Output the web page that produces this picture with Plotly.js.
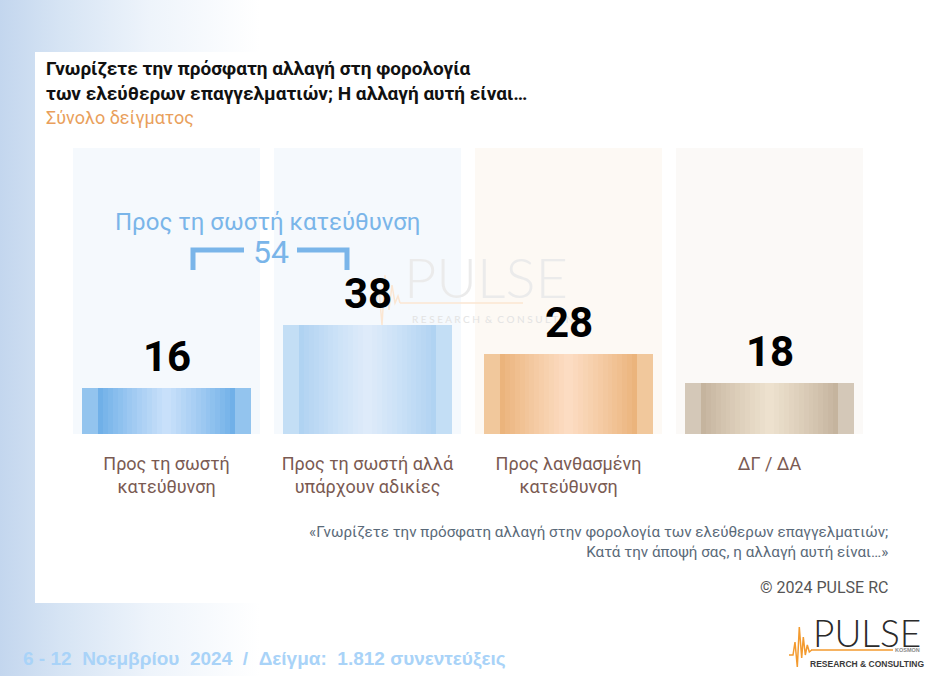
<!DOCTYPE html>
<html>
<head>
<meta charset="utf-8">
<script src="https://cdn.plot.ly/plotly-3.0.1.min.js"></script>
<style>
  html, body { margin: 0; padding: 0; }
  body { width: 936px; height: 676px; overflow: hidden;
         background: linear-gradient(to right, #c3d6ee 0px, #d6e4f4 60px, #eef4fb 150px, #ffffff 260px); }
  #chart { width: 936px; height: 676px; }
</style>
</head>
<body>
<div id="chart"></div>
<script>
// ---------------- data ----------------
const categories = ['Προς τη σωστή<br>κατεύθυνση', 'Προς τη σωστή αλλά<br>υπάρχουν αδικίες', 'Προς λανθασμένη<br>κατεύθυνση', 'ΔΓ / ΔΑ'];
const values = [16, 38, 28, 18];
const scaleMax = [100, 100, 100, 100];
const groupLabel = 'Προς τη σωστή κατεύθυνση';
const groupTotal = 54;
const titleLines = ['Γνωρίζετε την πρόσφατη αλλαγή στη φορολογία', 'των ελεύθερων επαγγελματιών; Η αλλαγή αυτή είναι…'];
const subtitle = 'Σύνολο δείγματος';
const questionNote = ['«Γνωρίζετε την πρόσφατη αλλαγή στην φορολογία των ελεύθερων επαγγελματιών;', 'Κατά την άποψή σας, η αλλαγή αυτή είναι…»'];
const copyright = '© 2024 PULSE RC';
const fieldNote = '6 - 12&nbsp;&nbsp;Νοεμβρίου&nbsp;&nbsp;2024&nbsp;&nbsp;/&nbsp;&nbsp;Δείγμα:&nbsp;&nbsp;1.812 συνεντεύξεις';

// ---------------- styles ----------------
const trackColors = ['#f5f9fd', '#f5f9fd', '#fdf9f4', '#fbf9f7'];
const edgeColors  = ['#93c4ee', '#c3def5', '#f1c89c', '#d4c8b8'];
const darkColors  = ['#70b0e8', '#b0d3f2', '#ebb47c', '#c5b49e'];
const lightColors = ['#c8e0fa', '#deebfa', '#fcdcc2', '#ede1ce'];

function hex2rgb(h) { return [1,3,5].map(i => parseInt(h.substr(i,2),16)); }
function mix(a, b, t) {
  const A = hex2rgb(a), B = hex2rgb(b);
  return 'rgb(' + A.map((v,i) => Math.round(v + (B[i]-v)*t)).join(',') + ')';
}

const W = 936, H = 676;
const M = {l: 66, r: 66, t: 148, b: 242};
const PW = W - M.l - M.r, PH = H - M.t - M.b;
const px = p => (p - M.l) / PW;      // pixel x -> paper x
const py = p => (H - M.b - p) / PH;  // pixel y -> paper y

const barW = 0.84, edgeFrac = 16/201;
const traces = [];
// background tracks
traces.push({type: 'bar', x: categories, y: scaleMax, width: 0.935,
  marker: {color: trackColors, line: {width: 0}}, hoverinfo: 'skip', showlegend: false});
// outer edge band
traces.push({type: 'bar', x: categories, y: values, width: barW,
  marker: {color: edgeColors, line: {width: 0}}, hoverinfo: 'skip', showlegend: false});
// gradient layers (dark at sides -> light in centre)
const inner = barW - 2*edgeFrac;
const N = 14;
for (let k = 0; k < N; k++) {
  const t = k / (N - 1);
  traces.push({type: 'bar', x: categories, y: values, width: inner * (1 - k / N),
    marker: {color: categories.map((c,i) => mix(darkColors[i], lightColors[i], Math.pow(t, 0.9))), line: {width: 0}},
    hoverinfo: 'skip', showlegend: false});
}

const C = {xanchor: 'center', yanchor: 'middle', showarrow: false};
const annotations = [];
// watermark
annotations.push(Object.assign({xref: 'paper', yref: 'paper', x: px(486), y: py(276), text: 'PULSE',
  font: {family: 'Lato, Roboto, sans-serif', size: 56, color: '#ebebeb', weight: 300}}, C));
annotations.push(Object.assign({xref: 'paper', yref: 'paper', x: px(497), y: py(319), text: 'R E S E A R C H &nbsp;&amp;&nbsp; C O N S U L T I N G',
  font: {family: 'Lato, Roboto, sans-serif', size: 10, color: '#e3e3e3'}}, C));
// group label + total
annotations.push(Object.assign({xref: 'x', yref: 'y', x: 0.5, y: (434 - 222) / PH * 100, text: groupLabel,
  font: {family: 'Roboto, sans-serif', size: 24, color: '#7ab5e9'}}, C));
annotations.push(Object.assign({xref: 'x', yref: 'y', x: 0.52, y: (434 - 252) / PH * 100, text: String(groupTotal),
  font: {family: 'Roboto, sans-serif', size: 32, color: '#7ab5e9'}}, C));
// value labels
values.forEach((v, i) => annotations.push({xref: 'x', yref: 'y', x: i, y: v, xanchor: 'center', yanchor: 'bottom', yshift: 5,
  text: '<b>' + v + '</b>', showarrow: false,
  font: {family: 'Roboto, sans-serif', size: 42, color: '#000000'}}));
// question note
annotations.push({xref: 'paper', yref: 'paper', x: px(890), y: py(521), xanchor: 'right', yanchor: 'top', align: 'right',
  text: questionNote.join('<br>'), showarrow: false,
  font: {family: 'Roboto, sans-serif', size: 15.2, color: '#5a6a79'}});
annotations.push({xref: 'paper', yref: 'paper', x: px(890), y: py(587), xanchor: 'right', yanchor: 'middle',
  text: copyright, showarrow: false, font: {family: 'Roboto, sans-serif', size: 16, color: '#555555'}});
// field note
annotations.push({xref: 'paper', yref: 'paper', x: px(21), y: py(659), xanchor: 'left', yanchor: 'middle',
  text: '<b>' + fieldNote + '</b>', showarrow: false,
  font: {family: '"Liberation Sans", Arial, sans-serif', size: 19, color: '#a9d3f8'}});
// logo
annotations.push(Object.assign({xref: 'paper', yref: 'paper', x: px(867), y: py(632), text: 'PULSE',
  font: {family: 'Lato, Roboto, sans-serif', size: 37, color: '#2a2a2a', weight: 300}}, C));
annotations.push(Object.assign({xref: 'paper', yref: 'paper', x: px(907), y: py(650), text: '<b>KOSMON</b>',
  font: {family: '"Liberation Sans", sans-serif', size: 5.5, color: '#8a8a8a'}}, C));
annotations.push(Object.assign({xref: 'paper', yref: 'paper', x: px(867), y: py(664), text: '<b>RESEARCH &amp; CONSULTING</b>',
  font: {family: '"Liberation Sans", sans-serif', size: 8.5, color: '#3a3a3a'}}, C));

const shapes = [];
// white panel
shapes.push({type: 'rect', xref: 'paper', yref: 'paper', x0: px(35), x1: px(940), y0: py(603), y1: py(52),
  fillcolor: '#ffffff', line: {width: 0}, layer: 'below'});
// bracket
const yv = p => (434 - p) / PH * 100;
const xc = p => (p - 166.5) / 201;
const bl = {color: '#7ab5e9', width: 5};
shapes.push({type: 'path', xref: 'x', yref: 'y', layer: 'above', line: bl,
  path: `M ${xc(193)},${yv(270)} L ${xc(193)},${yv(250)} L ${xc(244)},${yv(250)}`});
shapes.push({type: 'path', xref: 'x', yref: 'y', layer: 'above', line: bl,
  path: `M ${xc(297)},${yv(250)} L ${xc(347)},${yv(250)} L ${xc(347)},${yv(270)}`});
// watermark line + pulse
shapes.push({type: 'line', xref: 'paper', yref: 'paper', x0: px(400), x1: px(523), y0: py(303), y1: py(303),
  line: {color: '#fbe6d2', width: 1.5}});
shapes.push({type: 'path', xref: 'paper', yref: 'paper', line: {color: '#fbe6d2', width: 1.5},
  path: [[372,303],[376,303],[379,290],[382,325],[385,275],[389,310],[392,285],[395,303],[398,296],[400,303]]
    .map((p,i) => (i ? 'L ' : 'M ') + px(p[0]) + ',' + py(p[1])).join(' ')});
// logo line + pulse
shapes.push({type: 'line', xref: 'paper', yref: 'paper', x0: px(811), x1: px(893), y0: py(650), y1: py(650),
  line: {color: '#f39a2e', width: 1.5}});
shapes.push({type: 'path', xref: 'paper', yref: 'paper', line: {color: '#f39a2e', width: 1.5},
  path: [[789,655],[793,655],[795,642],[797.3,667],[799.3,627],[801.7,658],[803.3,637],[805.3,655],[807.3,645],[809.3,652],[811.7,650]]
    .map((p,i) => (i ? 'L ' : 'M ') + px(p[0]) + ',' + py(p[1])).join(' ')});

const layout = {
  width: W, height: H, autosize: false,
  margin: {l: M.l, r: M.r, t: M.t, b: M.b, pad: 0},
  paper_bgcolor: 'rgba(0,0,0,0)', plot_bgcolor: 'rgba(0,0,0,0)',
  barmode: 'overlay', bargap: 0,
  showlegend: false,
  title: {
    text: '<b>' + titleLines.join('<br>') + '</b><br><span style="font-size:18px;color:#e99f5c">' + subtitle + '</span>',
    x: 46 / W, xref: 'container', xanchor: 'left',
    y: 1 - 75 / H, yref: 'container', yanchor: 'top',
    font: {family: 'Roboto, sans-serif', size: 19, color: '#111111'}
  },
  xaxis: {type: 'category', range: [-0.5, 3.5], showgrid: false, zeroline: false, showline: false, ticks: '',
    tickfont: {family: 'Roboto, sans-serif', size: 18, color: '#7a5a52'}, ticklabelstandoff: 17, fixedrange: true},
  yaxis: {range: [0, 100], visible: false, fixedrange: true},
  annotations: annotations,
  shapes: shapes
};

Plotly.newPlot('chart', traces, layout, {displayModeBar: false, staticPlot: true});
</script>
</body>
</html>
